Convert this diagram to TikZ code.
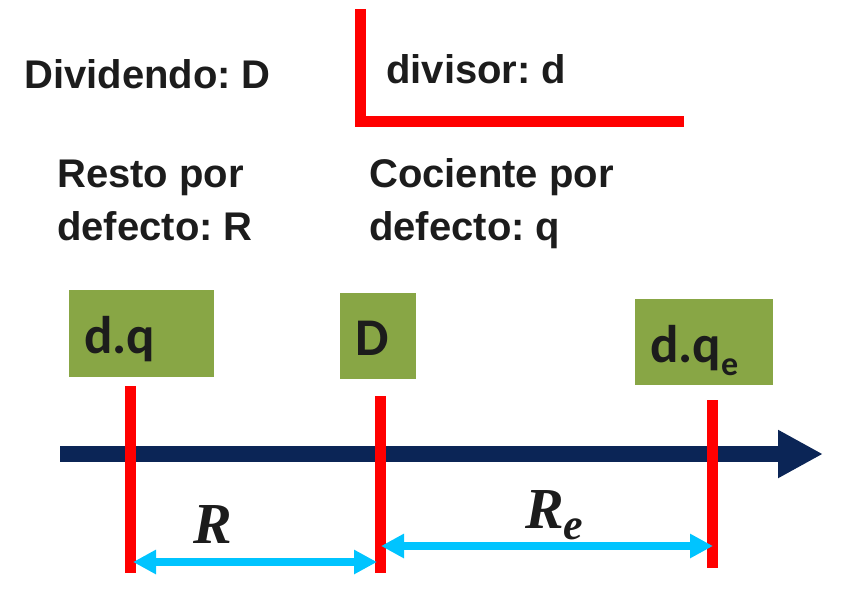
\documentclass[tikz,border=0pt]{standalone}
\usepackage{fontspec}
\setmainfont{Liberation Sans}
\newfontfamily\boxfont{Carlito}
\newfontfamily\varfont{Liberation Serif}
\usetikzlibrary{arrows.meta}
\definecolor{axisnavy}{RGB}{11,37,86}
\definecolor{boxgreen}{RGB}{136,166,69}
\definecolor{gapcyan}{RGB}{0,196,255}
\definecolor{inkgray}{RGB}{28,28,28}
\frenchspacing
\tikzset{
  headtxt/.style={anchor=base west,inner sep=0pt,text=inkgray,
    font=\fontsize{40}{48}\selectfont\bfseries},
  valbox/.style={fill=boxgreen,inner xsep=15pt,inner ysep=0pt,text=inkgray,align=left,
    font=\boxfont\bfseries\fontsize{53}{60}\selectfont},
  tickline/.style={draw=red,line width=11pt},
  gaparrow/.style={draw=gapcyan,line width=8pt,
    {Triangle[length=23pt,width=23pt]}-{Triangle[length=23pt,width=23pt]}},
  varlbl/.style={inner sep=0pt,text=inkgray,
    font=\varfont\bfseries\itshape\fontsize{58}{60}\selectfont}
}
\begin{document}
\begin{tikzpicture}[x=1pt,y=-1pt]
  \useasboundingbox (0,0) rectangle (853,595);
  % division scheme
  \node[headtxt] (dividendo) at (24,88) {Dividendo: D};
  \node[headtxt] (divisor) at (386,83) {divisor: d};
  \draw[red,line width=11pt,line join=miter] (360.5,9) -- (360.5,121.5) -- (684,121.5);
  \node[headtxt] (restoA) at (57,187) {Resto por};
  \node[headtxt] (restoB) at (57,240) {defecto: R};
  \node[headtxt] (cocA) at (369,187) {Cociente por};
  \node[headtxt] (cocB) at (369,240) {defecto: q};
  % values above the line
  \node[valbox,text width=115pt,text height=63pt,text depth=24pt] (dq) at (141.5,333.5) {d.q};
  \node[valbox,text width=46pt,text height=62pt,text depth=24pt] (dD) at (378,336) {D};
  \node[valbox,text width=108pt,text height=63pt,text depth=23pt] (dqe) at (704,342)
    {d.q\raisebox{-13pt}{\fontsize{34}{34}\selectfont e}};
  % number line
  \coordinate (axisstart) at (60,454);
  \coordinate (axisend) at (823,454);
  \draw[axisnavy,line width=16pt,-{Triangle[length=45pt,width=45pt]}] (axisstart) -- (axisend);
  \coordinate (t1top) at (130.5,386);
  \coordinate (t1bot) at (130.5,573);
  \coordinate (t2top) at (380,396);
  \coordinate (t2bot) at (380,573);
  \coordinate (t3top) at (712.5,400);
  \coordinate (t3bot) at (712.5,568);
  \draw[tickline] (t1top) -- (t1bot);
  \draw[tickline] (t2top) -- (t2bot);
  \draw[tickline] (t3top) -- (t3bot);
  % remainders
  \coordinate (gapRa) at (133,562);
  \coordinate (gapRb) at (377,562);
  \coordinate (gapEa) at (381,546);
  \coordinate (gapEb) at (713,546);
  \draw[gaparrow] (gapRa) -- (gapRb);
  \draw[gaparrow] (gapEa) -- (gapEb);
  \node[varlbl,anchor=base] (lblR) at (212.5,543) {R};
  \node[varlbl,anchor=base west] (lblRe) at (525,528)
    {R\raisebox{-11pt}{\fontsize{44}{44}\selectfont e}};
\end{tikzpicture}
\end{document}
